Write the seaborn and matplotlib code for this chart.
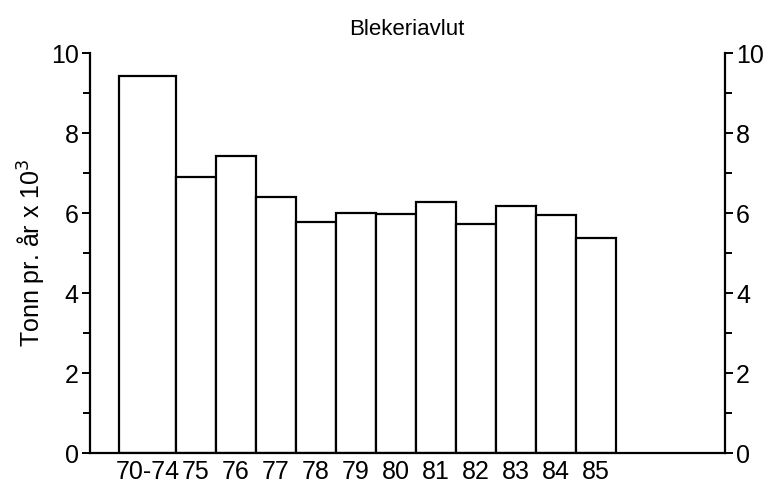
"""Blekeriavlut: annual bleach effluent, tonnes per year (x 10^3)."""
import numpy as np
import matplotlib
matplotlib.use("Agg")
import matplotlib.pyplot as plt
from matplotlib.ticker import MultipleLocator
import seaborn as sns

sns.set_theme(style="white")
plt.rcParams["font.family"] = ["Liberation Sans", "DejaVu Sans"]
plt.rcParams["text.color"] = "black"
plt.rcParams["axes.labelcolor"] = "black"
plt.rcParams["xtick.color"] = "black"
plt.rcParams["ytick.color"] = "black"

# data
periods = ["70-74", "75", "76", "77", "78", "79", "80", "81", "82", "83", "84", "85"]
tonnes = [9.43, 6.91, 7.43, 6.41, 5.78, 6.0, 5.98, 6.27, 5.73, 6.18, 5.95, 5.39]
# first bar covers a 5-year period and is drawn wider
widths = [1.42] + [1.0] * 11

start = 0.73
edges = start + np.concatenate([[0], np.cumsum(widths)])
centers = (edges[:-1] + edges[1:]) / 2

fig = plt.figure(figsize=(7.67, 4.84), dpi=100)
ax = fig.add_axes([0.117, 0.064, 0.828, 0.826])

ax.bar(edges[:-1], tonnes, width=widths, align="edge",
       color="white", edgecolor="black", linewidth=1.6)

ax.set_xlim(0, 15.87)
ax.set_ylim(0, 10)
ax.set_xticks(centers)
ax.set_xticklabels(periods, fontsize=18)
ax.yaxis.set_major_locator(MultipleLocator(2))
ax.yaxis.set_minor_locator(MultipleLocator(1))
ax.tick_params(axis="x", length=0, pad=5)
ax.tick_params(axis="y", which="both", left=True, right=True,
               labelleft=True, labelright=True, direction="out",
               width=1.4, labelsize=18, pad=2)
ax.tick_params(axis="y", which="major", length=6)
ax.tick_params(axis="y", which="minor", length=5)

for side in ["left", "right", "bottom"]:
    ax.spines[side].set_visible(True)
    ax.spines[side].set_color("black")
    ax.spines[side].set_linewidth(1.6)
ax.spines["top"].set_visible(False)

ax.set_ylabel("Tonn pr. år x 10$^3$", fontsize=18, labelpad=2)
ax.set_xlabel("")
ax.set_title("Blekeriavlut", fontsize=16, pad=13)
ax.grid(False)

fig.savefig("out.png", dpi=100)
